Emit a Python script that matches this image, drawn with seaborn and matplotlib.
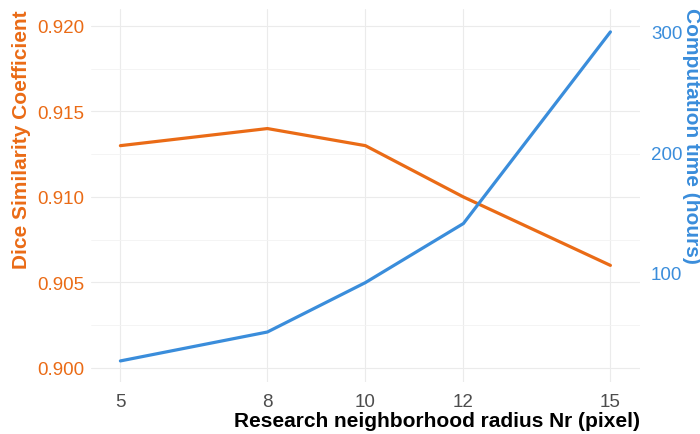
import numpy as np
import pandas as pd
import seaborn as sns
import matplotlib.pyplot as plt
from matplotlib.ticker import MultipleLocator

radius = [5, 8, 10, 12, 15]
dice = [0.913, 0.914, 0.913, 0.910, 0.906]
hours = [27, 51, 92, 141, 300]

orange = '#EA6B16'
blue = '#3A8DDB'

df = pd.DataFrame({'radius': radius, 'dice': dice, 'hours': hours})

sns.set_style('white')
plt.rcParams['font.family'] = ['Liberation Sans', 'DejaVu Sans']

fig = plt.figure(figsize=(7, 4.35), dpi=100)
ax = fig.add_axes([0.13, 0.1195, 0.784, 0.8575])
ax2 = ax.twinx()

sns.lineplot(data=df, x='radius', y='dice', ax=ax, color=orange, linewidth=2.3)
sns.lineplot(data=df, x='radius', y='hours', ax=ax2, color=blue, linewidth=2.3)

ax.set_xlim(4.4, 15.6)
ax.set_ylim(0.89918, 0.92099)
ax2.set_ylim(9.5, 319)

ax.set_xticks(radius)
ax.set_yticks([0.900, 0.905, 0.910, 0.915, 0.920])
ax.set_yticklabels(['0.900', '0.905', '0.910', '0.915', '0.920'])
ax.yaxis.set_minor_locator(MultipleLocator(0.0025))
ax2.set_yticks([100, 200, 300])

ax.grid(True, which='major', color='#EBEBEB', linewidth=0.8)
ax.grid(True, which='minor', axis='y', color='#F3F3F3', linewidth=0.6)
ax.set_axisbelow(True)
ax2.grid(False)
for a in (ax, ax2):
    for s in a.spines.values():
        s.set_visible(False)

ax.tick_params(axis='x', colors='#4D4D4D', labelsize=13.5, length=0, pad=8)
ax.tick_params(axis='y', which='both', colors=orange, labelsize=13.5, length=0, pad=5)
ax2.tick_params(axis='y', colors=blue, labelsize=13.5, length=0, pad=8)

ax.set_xlabel('Research neighborhood radius Nr (pixel)', fontsize=15, fontweight='bold', color='black',
              ha='right', va='top')
ax.xaxis.set_label_coords(1.0, -0.077)
ax.set_ylabel('Dice Similarity Coefficient', fontsize=15, fontweight='bold', color=orange,
              ha='right', va='center')
ax.yaxis.set_label_coords(-0.126, 1.0)
ax2.set_ylabel('')
fig.text(692 / 700, 1 - 8 / 435, 'Computation time (hours)', fontsize=15, fontweight='bold',
         color=blue, rotation=-90, ha='center', va='top')

fig.savefig('out.png', dpi=100)
